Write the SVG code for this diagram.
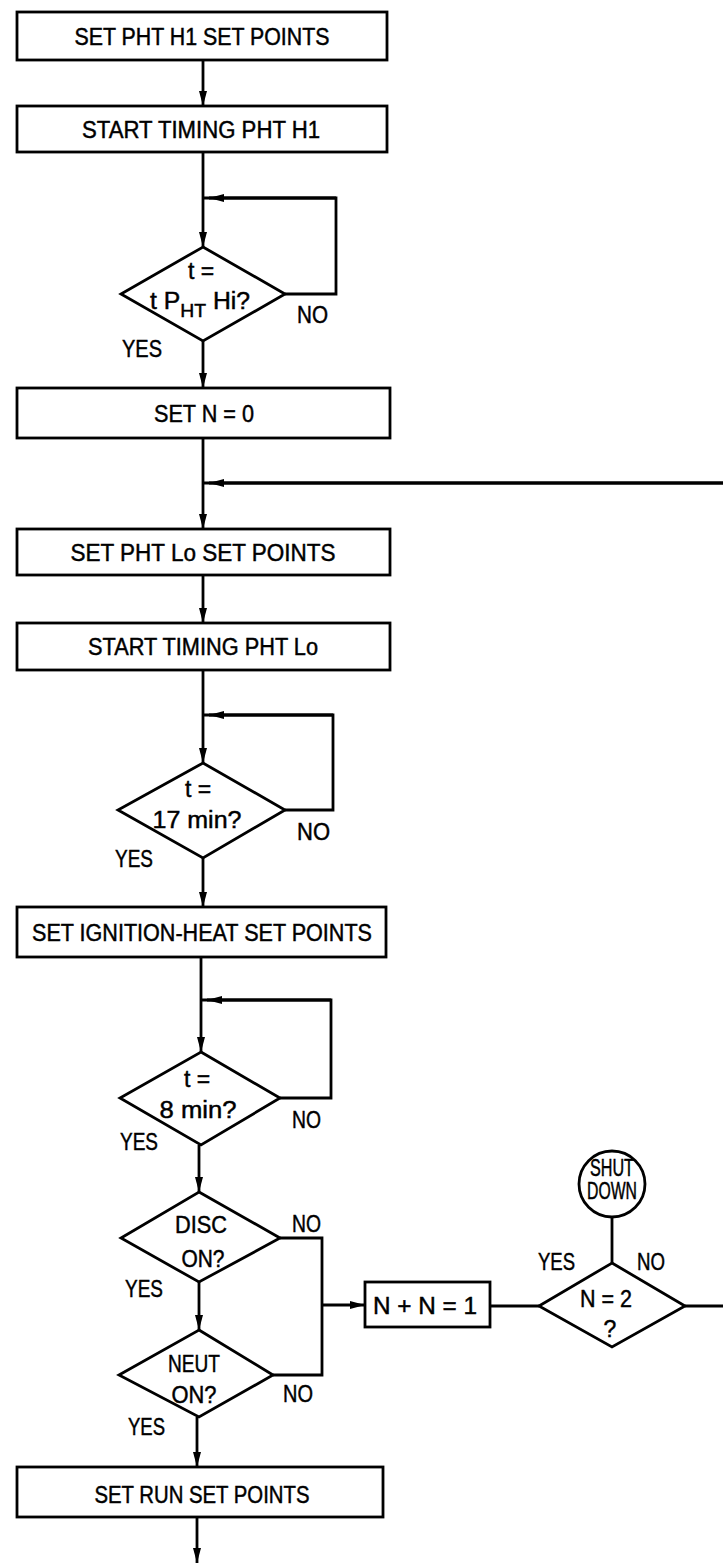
<svg xmlns="http://www.w3.org/2000/svg" width="723" height="1564" viewBox="0 0 723 1564">
<defs>
<style>
.box{fill:#fff;stroke:#000;stroke-width:2.8}
.dia{fill:#fff;stroke:#000;stroke-width:2.8}
.ln{fill:none;stroke:#000;stroke-width:2.8}
text{font-family:"Liberation Sans",Arial,sans-serif;font-size:23px;fill:#000;stroke:#000;stroke-width:0.45}
.c{text-anchor:middle}
.no{font-size:24px}
</style>
<marker id="ah" viewBox="0 0 15 8" refX="15" refY="4" markerWidth="15" markerHeight="8" markerUnits="userSpaceOnUse" orient="auto">
<path d="M0,0 L15,4 L0,8 Z" fill="#000"/>
</marker>
</defs>
<rect width="723" height="1564" fill="#fff"/>
<g id="connectors">
<path class="ln" d="M203 60 V106" marker-end="url(#ah)"/>
<path class="ln" d="M203 152 V247" marker-end="url(#ah)"/>
<path class="ln" d="M285 294 H336 V198 H203"/>
<path class="ln" d="M336 198 H209" marker-end="url(#ah)"/>
<path class="ln" d="M203 341 V388" marker-end="url(#ah)"/>
<path class="ln" d="M203 438 V529" marker-end="url(#ah)"/>
<path class="ln" d="M723 483 H203"/>
<path class="ln" d="M723 483 H209" marker-end="url(#ah)"/>
<path class="ln" d="M203 575 V623" marker-end="url(#ah)"/>
<path class="ln" d="M203 670 V763" marker-end="url(#ah)"/>
<path class="ln" d="M285 810 H333 V715 H203"/>
<path class="ln" d="M333 715 H209" marker-end="url(#ah)"/>
<path class="ln" d="M203 858 V907" marker-end="url(#ah)"/>
<path class="ln" d="M201 957 V1052" marker-end="url(#ah)"/>
<path class="ln" d="M280 1098 H331 V1000 H201"/>
<path class="ln" d="M331 1000 H207" marker-end="url(#ah)"/>
<path class="ln" d="M199 1145 V1192" marker-end="url(#ah)"/>
<path class="ln" d="M280 1238 H322 V1375 H273"/>
<path class="ln" d="M322 1305 H365" marker-end="url(#ah)"/>
<path class="ln" d="M199 1282 V1330" marker-end="url(#ah)"/>
<path class="ln" d="M490 1306 H539"/>
<path class="ln" d="M685 1306 H723"/>
<path class="ln" d="M612 1217 V1263"/>
<path class="ln" d="M197 1417 V1467" marker-end="url(#ah)"/>
<path class="ln" d="M197 1517 V1563" marker-end="url(#ah)"/>
</g>
<g id="n1"><rect class="box" x="17" y="12" width="370" height="48"/><text class="c" x="202" y="45" textLength="255" lengthAdjust="spacingAndGlyphs">SET PHT H1 SET POINTS</text></g>
<g id="n2"><rect class="box" x="17" y="106" width="370" height="46"/><text class="c" x="201" y="138" textLength="238" lengthAdjust="spacingAndGlyphs">START TIMING PHT H1</text></g>
<g id="d1"><path class="dia" d="M203 247 L285 294 L203 341 L121 294 Z"/>
<text class="c" x="201" y="279">t =</text>
<text x="150" y="309" textLength="100" lengthAdjust="spacingAndGlyphs">t P<tspan font-size="18" dy="8">HT</tspan><tspan dy="-8"> Hi?</tspan></text>
<text class="no" x="297" y="323" textLength="31" lengthAdjust="spacingAndGlyphs">NO</text>
<text class="no" x="122" y="357" textLength="40" lengthAdjust="spacingAndGlyphs">YES</text></g>
<g id="n3"><rect class="box" x="17" y="388" width="373" height="50"/><text class="c" x="204" y="422" textLength="100" lengthAdjust="spacingAndGlyphs">SET  N = 0</text></g>
<g id="n4"><rect class="box" x="17" y="529" width="373" height="46"/><text class="c" x="203" y="561" textLength="265" lengthAdjust="spacingAndGlyphs">SET PHT Lo SET POINTS</text></g>
<g id="n5"><rect class="box" x="17" y="623" width="373" height="47"/><text class="c" x="203" y="655" textLength="230" lengthAdjust="spacingAndGlyphs">START TIMING PHT Lo</text></g>
<g id="d2"><path class="dia" d="M203 763 L285 810 L203 858 L118 810 Z"/>
<text class="c" x="198" y="797">t =</text>
<text class="c" x="197" y="828" textLength="89" lengthAdjust="spacingAndGlyphs">17 min?</text>
<text class="no" x="297" y="840" textLength="33" lengthAdjust="spacingAndGlyphs">NO</text>
<text class="no" x="115" y="867" textLength="38" lengthAdjust="spacingAndGlyphs">YES</text></g>
<g id="n6"><rect class="box" x="17" y="907" width="369" height="50"/><text class="c" x="202" y="941" textLength="340" lengthAdjust="spacingAndGlyphs">SET IGNITION-HEAT SET POINTS</text></g>
<g id="d3"><path class="dia" d="M201 1052 L280 1098 L201 1145 L120 1098 Z"/>
<text class="c" x="197" y="1087">t =</text>
<text class="c" x="198" y="1118" textLength="77" lengthAdjust="spacingAndGlyphs">8 min?</text>
<text class="no" x="292" y="1128" textLength="29" lengthAdjust="spacingAndGlyphs">NO</text>
<text class="no" x="120" y="1150" textLength="38" lengthAdjust="spacingAndGlyphs">YES</text></g>
<g id="d4"><path class="dia" d="M199 1192 L280 1238 L199 1282 L121 1238 Z"/>
<text class="c" x="201" y="1233" textLength="52" lengthAdjust="spacingAndGlyphs">DISC</text>
<text class="c" x="203" y="1267" textLength="43" lengthAdjust="spacingAndGlyphs">ON?</text>
<text class="no" x="292" y="1232" textLength="29" lengthAdjust="spacingAndGlyphs">NO</text>
<text class="no" x="125" y="1297" textLength="38" lengthAdjust="spacingAndGlyphs">YES</text></g>
<g id="n7"><rect class="box" x="365" y="1282" width="125" height="45"/><text class="c" x="425" y="1314" textLength="104" lengthAdjust="spacingAndGlyphs">N + N = 1</text></g>
<g id="d6"><path class="dia" d="M612 1263 L685 1306 L612 1347 L539 1306 Z"/>
<text class="c" x="606" y="1307" textLength="52" lengthAdjust="spacingAndGlyphs">N = 2</text>
<text class="c" x="610" y="1337">?</text>
<text class="no" x="538" y="1270" textLength="37" lengthAdjust="spacingAndGlyphs">YES</text>
<text class="no" x="637" y="1270" textLength="28" lengthAdjust="spacingAndGlyphs">NO</text></g>
<g id="shut"><circle class="box" cx="612" cy="1184" r="33"/>
<text class="c" x="612" y="1176" font-size="17" textLength="44" lengthAdjust="spacingAndGlyphs">SHUT</text>
<text class="c" x="612" y="1199" font-size="17" textLength="50" lengthAdjust="spacingAndGlyphs">DOWN</text></g>
<g id="d5"><path class="dia" d="M199 1330 L273 1375 L199 1417 L119 1375 Z"/>
<text class="c" x="194" y="1372" textLength="52" lengthAdjust="spacingAndGlyphs">NEUT</text>
<text class="c" x="194" y="1403" textLength="45" lengthAdjust="spacingAndGlyphs">ON?</text>
<text class="no" x="283" y="1402" textLength="30" lengthAdjust="spacingAndGlyphs">NO</text>
<text class="no" x="128" y="1435" textLength="37" lengthAdjust="spacingAndGlyphs">YES</text></g>
<g id="n8"><rect class="box" x="17" y="1467" width="366" height="50"/><text class="c" x="202" y="1503" textLength="215" lengthAdjust="spacingAndGlyphs">SET RUN SET POINTS</text></g>
</svg>
